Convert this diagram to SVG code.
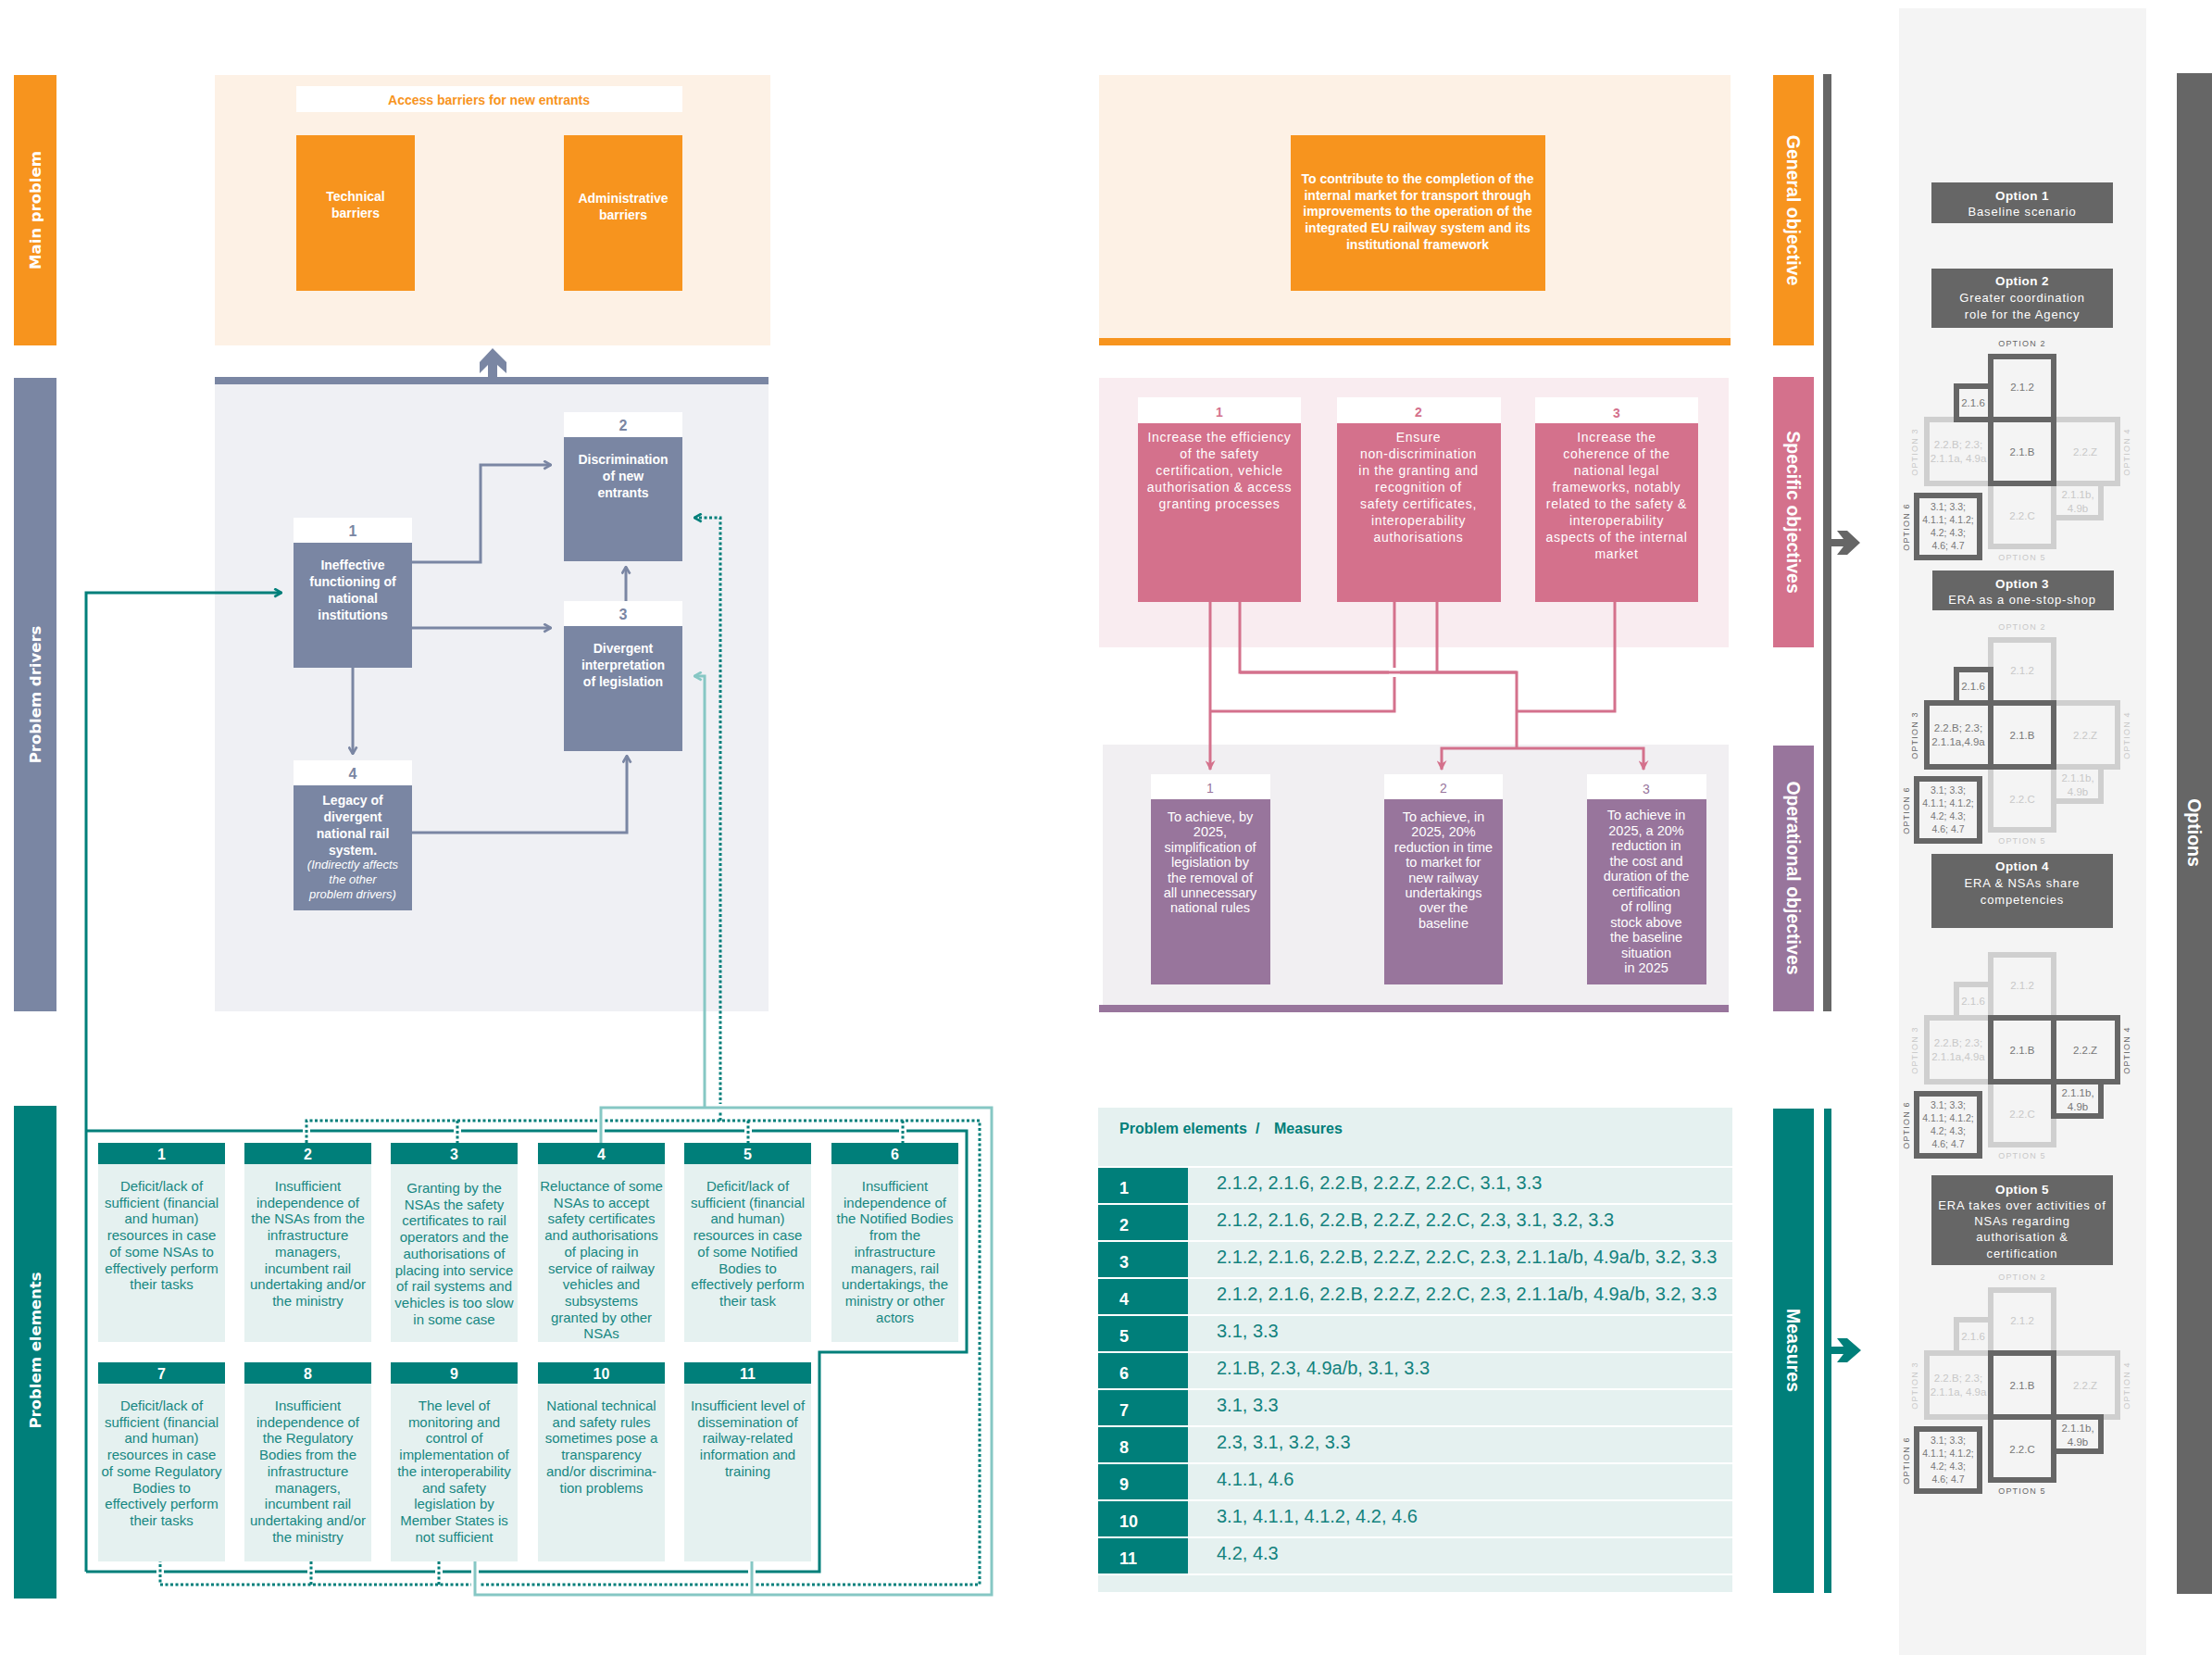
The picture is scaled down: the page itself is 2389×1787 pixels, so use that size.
<svg xmlns="http://www.w3.org/2000/svg" width="2389" height="1787" viewBox="0 0 2389 1787">
<style>
.f{font-family:"Liberation Sans",Arial,sans-serif}
.lbl{font-family:"DejaVu Sans",Verdana,sans-serif;font-weight:bold;font-size:16.5px;fill:#fff;text-anchor:middle}
.rlbl{font-family:"Liberation Sans",Arial,sans-serif;font-weight:bold;font-size:19.5px;fill:#fff;text-anchor:middle}
.wb{font-family:"Liberation Sans",Arial,sans-serif;font-weight:bold;font-size:14px;fill:#fff;text-anchor:middle}
.drv{font-family:"Liberation Sans",Arial,sans-serif;font-weight:bold;font-size:16px;fill:#7a86a3;text-anchor:middle}
.it{font-family:"Liberation Sans",Arial,sans-serif;font-style:italic;font-size:13px;fill:#fff;text-anchor:middle}
.el{font-family:"Liberation Sans",Arial,sans-serif;font-size:15px;fill:#178782;text-anchor:middle}
.eln{font-family:"Liberation Sans",Arial,sans-serif;font-weight:bold;font-size:16px;fill:#fff;text-anchor:middle}
.pk{font-family:"Liberation Sans",Arial,sans-serif;font-size:14px;letter-spacing:0.7px;fill:#fff;text-anchor:middle}
.pkn{font-family:"Liberation Sans",Arial,sans-serif;font-weight:bold;font-size:14px;fill:#d4718c;text-anchor:middle}
.op{font-family:"Liberation Sans",Arial,sans-serif;font-size:14.5px;fill:#fff;text-anchor:middle}
.opn{font-family:"Liberation Sans",Arial,sans-serif;font-size:14px;fill:#98759c;text-anchor:middle}
.ms{font-family:"Liberation Sans",Arial,sans-serif;font-size:20px;fill:#13827e}
.msn{font-family:"Liberation Sans",Arial,sans-serif;font-weight:bold;font-size:18px;fill:#fff}
.ot{font-family:"Liberation Sans",Arial,sans-serif;font-weight:bold;font-size:13.5px;letter-spacing:0.4px;fill:#fff;text-anchor:middle}
.os{font-family:"Liberation Sans",Arial,sans-serif;font-size:13px;letter-spacing:0.85px;fill:#fff;text-anchor:middle}
.dk{fill:none;stroke:#666;stroke-width:6}
.lt{fill:none;stroke:#cfcfcf;stroke-width:6}
.td{font-family:"Liberation Sans",Arial,sans-serif;font-size:11.5px;fill:#777;text-anchor:middle}
.tl{font-family:"Liberation Sans",Arial,sans-serif;font-size:11.5px;fill:#c8c8c8;text-anchor:middle}
.t6{font-family:"Liberation Sans",Arial,sans-serif;font-size:10.5px;fill:#777;text-anchor:middle}
.od{font-family:"Liberation Sans",Arial,sans-serif;font-size:9px;letter-spacing:1.2px;fill:#666;text-anchor:middle}
.ol{font-family:"Liberation Sans",Arial,sans-serif;font-size:9px;letter-spacing:1.2px;fill:#c8c8c8;text-anchor:middle}
.sl{fill:none;stroke:#7a86a3;stroke-width:3}
.pl{fill:none;stroke:#d4718c;stroke-width:3}
.tsol{fill:none;stroke:#007f7a;stroke-width:3}
.tdot{fill:none;stroke:#007f7a;stroke-width:3;stroke-dasharray:3 2.5}
.tpal{fill:none;stroke:#86c7c4;stroke-width:3}
</style>
<defs>
<marker id="mS" viewBox="0 0 10 10" refX="9" refY="5" markerWidth="11" markerHeight="11" markerUnits="userSpaceOnUse" orient="auto"><path d="M2,1 L9,5 L2,9" fill="none" stroke="#7a86a3" stroke-width="2.4"/></marker>
<marker id="mT" viewBox="0 0 10 10" refX="9" refY="5" markerWidth="11" markerHeight="11" markerUnits="userSpaceOnUse" orient="auto"><path d="M2,1 L9,5 L2,9" fill="none" stroke="#007f7a" stroke-width="2.4"/></marker>
<marker id="mP" viewBox="0 0 10 10" refX="9" refY="5" markerWidth="11" markerHeight="11" markerUnits="userSpaceOnUse" orient="auto"><path d="M2,1 L9,5 L2,9" fill="none" stroke="#86c7c4" stroke-width="2.4"/></marker>
<marker id="mK" viewBox="0 0 10 10" refX="9" refY="5" markerWidth="11" markerHeight="11" markerUnits="userSpaceOnUse" orient="auto"><path d="M0,0 L10,5 L0,10 L3,5 Z" fill="#d4718c"/></marker>
</defs>
<rect width="2389" height="1787" fill="#fff"/>

<!-- side label bars -->
<g id="label-main-problem"><rect x="15" y="81" width="46" height="292" fill="#f7941e"/><text class="lbl" transform="translate(38,227) rotate(-90)" y="6">Main problem</text></g>
<g id="label-problem-drivers"><rect x="15" y="408" width="46" height="684" fill="#7a86a3"/><text class="lbl" transform="translate(38,750) rotate(-90)" y="6">Problem drivers</text></g>
<g id="label-problem-elements"><rect x="15" y="1194" width="46" height="532" fill="#007f7a"/><text class="lbl" transform="translate(38,1458) rotate(-90)" y="6">Problem elements</text></g>

<!-- main problem -->
<g id="main-problem">
<rect x="232" y="81" width="600" height="292" fill="#fdf1e5"/>
<rect x="320" y="93" width="417" height="28" fill="#fff"/>
<text class="f" x="528" y="113" font-size="14" font-weight="bold" fill="#f7941e" text-anchor="middle">Access barriers for new entrants</text>
</g>
<g id="technical-barriers"><rect x="320" y="146" width="128" height="168" fill="#f7941e"/><text class="wb"><tspan x="384" y="217">Technical</tspan><tspan x="384" y="235">barriers</tspan></text></g>
<g id="administrative-barriers"><rect x="609" y="146" width="128" height="168" fill="#f7941e"/><text class="wb"><tspan x="673" y="219">Administrative</tspan><tspan x="673" y="237">barriers</tspan></text></g>

<!-- drivers panel -->
<g id="drivers-panel">
<rect x="232" y="415" width="598" height="677" fill="#eff0f4"/>
<rect x="232" y="407" width="598" height="8" fill="#7a86a3"/>
<polygon points="532,376 547,391 547,403 537,394 537,407 527,407 527,394 518,403 518,391" fill="#7a86a3"/>
</g>
<g id="driver-1"><rect x="317" y="559" width="128" height="27" fill="#fff"/><text class="drv" x="381" y="579">1</text><rect x="317" y="586" width="128" height="135" fill="#7a86a3"/>
<text class="wb"><tspan x="381" y="615">Ineffective</tspan><tspan x="381" y="633">functioning of</tspan><tspan x="381" y="651">national</tspan><tspan x="381" y="669">institutions</tspan></text></g>
<g id="driver-2"><rect x="609" y="445" width="128" height="27" fill="#fff"/><text class="drv" x="673" y="465">2</text><rect x="609" y="472" width="128" height="134" fill="#7a86a3"/>
<text class="wb"><tspan x="673" y="501">Discrimination</tspan><tspan x="673" y="519">of new</tspan><tspan x="673" y="537">entrants</tspan></text></g>
<g id="driver-3"><rect x="609" y="649" width="128" height="27" fill="#fff"/><text class="drv" x="673" y="669">3</text><rect x="609" y="676" width="128" height="135" fill="#7a86a3"/>
<text class="wb"><tspan x="673" y="705">Divergent</tspan><tspan x="673" y="723">interpretation</tspan><tspan x="673" y="741">of legislation</tspan></text></g>
<g id="driver-4"><rect x="317" y="821" width="128" height="27" fill="#fff"/><text class="drv" x="381" y="841">4</text><rect x="317" y="848" width="128" height="135" fill="#7a86a3"/>
<text class="wb"><tspan x="381" y="869">Legacy of</tspan><tspan x="381" y="887">divergent</tspan><tspan x="381" y="905">national rail</tspan><tspan x="381" y="923">system.</tspan></text>
<text class="it"><tspan x="381" y="938">(Indirectly affects</tspan><tspan x="381" y="954">the other</tspan><tspan x="381" y="970">problem drivers)</tspan></text></g>

<!-- problem elements -->
<g id="element-1"><rect x="106" y="1234" width="137" height="23" fill="#007f7a"/><text class="eln" x="174.5" y="1252">1</text><rect x="106" y="1257" width="137" height="192" fill="#e5f1f0"/>
<text class="el"><tspan x="174.5" y="1286">Deficit/lack of</tspan><tspan x="174.5" dy="17.7">sufficient (financial</tspan><tspan x="174.5" dy="17.7">and human)</tspan><tspan x="174.5" dy="17.7">resources in case</tspan><tspan x="174.5" dy="17.7">of some NSAs to</tspan><tspan x="174.5" dy="17.7">effectively perform</tspan><tspan x="174.5" dy="17.7">their tasks</tspan></text></g>
<g id="element-2"><rect x="264" y="1234" width="137" height="23" fill="#007f7a"/><text class="eln" x="332.5" y="1252">2</text><rect x="264" y="1257" width="137" height="192" fill="#e5f1f0"/>
<text class="el"><tspan x="332.5" y="1286">Insufficient</tspan><tspan x="332.5" dy="17.7">independence of</tspan><tspan x="332.5" dy="17.7">the NSAs from the</tspan><tspan x="332.5" dy="17.7">infrastructure</tspan><tspan x="332.5" dy="17.7">managers,</tspan><tspan x="332.5" dy="17.7">incumbent rail</tspan><tspan x="332.5" dy="17.7">undertaking and/or</tspan><tspan x="332.5" dy="17.7">the ministry</tspan></text></g>
<g id="element-3"><rect x="422" y="1234" width="137" height="23" fill="#007f7a"/><text class="eln" x="490.5" y="1252">3</text><rect x="422" y="1257" width="137" height="192" fill="#e5f1f0"/>
<text class="el"><tspan x="490.5" y="1288">Granting by the</tspan><tspan x="490.5" dy="17.7">NSAs the safety</tspan><tspan x="490.5" dy="17.7">certificates to rail</tspan><tspan x="490.5" dy="17.7">operators and the</tspan><tspan x="490.5" dy="17.7">authorisations of</tspan><tspan x="490.5" dy="17.7">placing into service</tspan><tspan x="490.5" dy="17.7">of rail systems and</tspan><tspan x="490.5" dy="17.7">vehicles is too slow</tspan><tspan x="490.5" dy="17.7">in some case</tspan></text></g>
<g id="element-4"><rect x="581" y="1234" width="137" height="23" fill="#007f7a"/><text class="eln" x="649.5" y="1252">4</text><rect x="581" y="1257" width="137" height="192" fill="#e5f1f0"/>
<text class="el"><tspan x="649.5" y="1286">Reluctance of some</tspan><tspan x="649.5" dy="17.7">NSAs to accept</tspan><tspan x="649.5" dy="17.7">safety certificates</tspan><tspan x="649.5" dy="17.7">and authorisations</tspan><tspan x="649.5" dy="17.7">of placing in</tspan><tspan x="649.5" dy="17.7">service of railway</tspan><tspan x="649.5" dy="17.7">vehicles and</tspan><tspan x="649.5" dy="17.7">subsystems</tspan><tspan x="649.5" dy="17.7">granted by other</tspan><tspan x="649.5" dy="17.7">NSAs</tspan></text></g>
<g id="element-5"><rect x="739" y="1234" width="137" height="23" fill="#007f7a"/><text class="eln" x="807.5" y="1252">5</text><rect x="739" y="1257" width="137" height="192" fill="#e5f1f0"/>
<text class="el"><tspan x="807.5" y="1286">Deficit/lack of</tspan><tspan x="807.5" dy="17.7">sufficient (financial</tspan><tspan x="807.5" dy="17.7">and human)</tspan><tspan x="807.5" dy="17.7">resources in case</tspan><tspan x="807.5" dy="17.7">of some Notified</tspan><tspan x="807.5" dy="17.7">Bodies to</tspan><tspan x="807.5" dy="17.7">effectively perform</tspan><tspan x="807.5" dy="17.7">their task</tspan></text></g>
<g id="element-6"><rect x="898" y="1234" width="137" height="23" fill="#007f7a"/><text class="eln" x="966.5" y="1252">6</text><rect x="898" y="1257" width="137" height="192" fill="#e5f1f0"/>
<text class="el"><tspan x="966.5" y="1286">Insufficient</tspan><tspan x="966.5" dy="17.7">independence of</tspan><tspan x="966.5" dy="17.7">the Notified Bodies</tspan><tspan x="966.5" dy="17.7">from the</tspan><tspan x="966.5" dy="17.7">infrastructure</tspan><tspan x="966.5" dy="17.7">managers, rail</tspan><tspan x="966.5" dy="17.7">undertakings, the</tspan><tspan x="966.5" dy="17.7">ministry or other</tspan><tspan x="966.5" dy="17.7">actors</tspan></text></g>
<g id="element-7"><rect x="106" y="1471" width="137" height="23" fill="#007f7a"/><text class="eln" x="174.5" y="1489">7</text><rect x="106" y="1494" width="137" height="192" fill="#e5f1f0"/>
<text class="el"><tspan x="174.5" y="1523">Deficit/lack of</tspan><tspan x="174.5" dy="17.7">sufficient (financial</tspan><tspan x="174.5" dy="17.7">and human)</tspan><tspan x="174.5" dy="17.7">resources in case</tspan><tspan x="174.5" dy="17.7">of some Regulatory</tspan><tspan x="174.5" dy="17.7">Bodies to</tspan><tspan x="174.5" dy="17.7">effectively perform</tspan><tspan x="174.5" dy="17.7">their tasks</tspan></text></g>
<g id="element-8"><rect x="264" y="1471" width="137" height="23" fill="#007f7a"/><text class="eln" x="332.5" y="1489">8</text><rect x="264" y="1494" width="137" height="192" fill="#e5f1f0"/>
<text class="el"><tspan x="332.5" y="1523">Insufficient</tspan><tspan x="332.5" dy="17.7">independence of</tspan><tspan x="332.5" dy="17.7">the Regulatory</tspan><tspan x="332.5" dy="17.7">Bodies from the</tspan><tspan x="332.5" dy="17.7">infrastructure</tspan><tspan x="332.5" dy="17.7">managers,</tspan><tspan x="332.5" dy="17.7">incumbent rail</tspan><tspan x="332.5" dy="17.7">undertaking and/or</tspan><tspan x="332.5" dy="17.7">the ministry</tspan></text></g>
<g id="element-9"><rect x="422" y="1471" width="137" height="23" fill="#007f7a"/><text class="eln" x="490.5" y="1489">9</text><rect x="422" y="1494" width="137" height="192" fill="#e5f1f0"/>
<text class="el"><tspan x="490.5" y="1523">The level of</tspan><tspan x="490.5" dy="17.7">monitoring and</tspan><tspan x="490.5" dy="17.7">control of</tspan><tspan x="490.5" dy="17.7">implementation of</tspan><tspan x="490.5" dy="17.7">the interoperability</tspan><tspan x="490.5" dy="17.7">and safety</tspan><tspan x="490.5" dy="17.7">legislation by</tspan><tspan x="490.5" dy="17.7">Member States is</tspan><tspan x="490.5" dy="17.7">not sufficient</tspan></text></g>
<g id="element-10"><rect x="581" y="1471" width="137" height="23" fill="#007f7a"/><text class="eln" x="649.5" y="1489">10</text><rect x="581" y="1494" width="137" height="192" fill="#e5f1f0"/>
<text class="el"><tspan x="649.5" y="1523">National technical</tspan><tspan x="649.5" dy="17.7">and safety rules</tspan><tspan x="649.5" dy="17.7">sometimes pose a</tspan><tspan x="649.5" dy="17.7">transparency</tspan><tspan x="649.5" dy="17.7">and/or discrimina-</tspan><tspan x="649.5" dy="17.7">tion problems</tspan></text></g>
<g id="element-11"><rect x="739" y="1471" width="137" height="23" fill="#007f7a"/><text class="eln" x="807.5" y="1489">11</text><rect x="739" y="1494" width="137" height="192" fill="#e5f1f0"/>
<text class="el"><tspan x="807.5" y="1523">Insufficient level of</tspan><tspan x="807.5" dy="17.7">dissemination of</tspan><tspan x="807.5" dy="17.7">railway-related</tspan><tspan x="807.5" dy="17.7">information and</tspan><tspan x="807.5" dy="17.7">training</tspan></text></g>

<!-- objectives -->
<g id="general-objective-panel"><rect x="1187" y="81" width="682" height="284" fill="#fdf1e5"/><rect x="1187" y="365" width="682" height="8" fill="#f7941e"/></g>
<g id="general-objective"><rect x="1394" y="146" width="275" height="168" fill="#f7941e"/>
<text class="wb"><tspan x="1531" y="198">To contribute to the completion of the</tspan><tspan x="1531" dy="17.7">internal market for transport through</tspan><tspan x="1531" dy="17.7">improvements to the operation of the</tspan><tspan x="1531" dy="17.7">integrated EU railway system and its</tspan><tspan x="1531" dy="17.7">institutional framework</tspan></text></g>
<g id="specific-panel"><rect x="1187" y="408" width="680" height="291" fill="#f9ecf0"/></g>
<g id="specific-1"><rect x="1229" y="429" width="176" height="28" fill="#fff"/><text class="pkn" x="1317" y="450">1</text><rect x="1229" y="457" width="176" height="193" fill="#d4718c"/>
<text class="pk"><tspan x="1317" y="477">Increase the efficiency</tspan><tspan x="1317" dy="18">of the safety</tspan><tspan x="1317" dy="18">certification, vehicle</tspan><tspan x="1317" dy="18">authorisation &amp; access</tspan><tspan x="1317" dy="18">granting processes</tspan></text></g>
<g id="specific-2"><rect x="1444" y="429" width="177" height="28" fill="#fff"/><text class="pkn" x="1532" y="450">2</text><rect x="1444" y="457" width="177" height="193" fill="#d4718c"/>
<text class="pk"><tspan x="1532" y="477">Ensure</tspan><tspan x="1532" dy="18">non-discrimination</tspan><tspan x="1532" dy="18">in the granting and</tspan><tspan x="1532" dy="18">recognition of</tspan><tspan x="1532" dy="18">safety certificates,</tspan><tspan x="1532" dy="18">interoperability</tspan><tspan x="1532" dy="18">authorisations</tspan></text></g>
<g id="specific-3"><rect x="1658" y="429" width="176" height="28" fill="#fff"/><text class="pkn" x="1746" y="451">3</text><rect x="1658" y="457" width="176" height="193" fill="#d4718c"/>
<text class="pk"><tspan x="1746" y="477">Increase the</tspan><tspan x="1746" dy="18">coherence of the</tspan><tspan x="1746" dy="18">national legal</tspan><tspan x="1746" dy="18">frameworks, notably</tspan><tspan x="1746" dy="18">related to the safety &amp;</tspan><tspan x="1746" dy="18">interoperability</tspan><tspan x="1746" dy="18">aspects of the internal</tspan><tspan x="1746" dy="18">market</tspan></text></g>
<g id="operational-panel"><rect x="1191" y="804" width="676" height="281" fill="#f1eff2"/><rect x="1187" y="1085" width="680" height="8" fill="#98759c"/></g>
<g id="operational-1"><rect x="1243" y="836" width="129" height="27" fill="#fff"/><text class="opn" x="1307" y="856">1</text><rect x="1243" y="863" width="129" height="200" fill="#98759c"/>
<text class="op"><tspan x="1307" y="887">To achieve, by</tspan><tspan x="1307" dy="16.4">2025,</tspan><tspan x="1307" dy="16.4">simplification of</tspan><tspan x="1307" dy="16.4">legislation by</tspan><tspan x="1307" dy="16.4">the removal of</tspan><tspan x="1307" dy="16.4">all unnecessary</tspan><tspan x="1307" dy="16.4">national rules</tspan></text></g>
<g id="operational-2"><rect x="1495" y="836" width="128" height="27" fill="#fff"/><text class="opn" x="1559" y="856">2</text><rect x="1495" y="863" width="128" height="200" fill="#98759c"/>
<text class="op"><tspan x="1559" y="887">To achieve, in</tspan><tspan x="1559" dy="16.4">2025, 20%</tspan><tspan x="1559" dy="16.4">reduction in time</tspan><tspan x="1559" dy="16.4">to market for</tspan><tspan x="1559" dy="16.4">new railway</tspan><tspan x="1559" dy="16.4">undertakings</tspan><tspan x="1559" dy="16.4">over the</tspan><tspan x="1559" dy="16.4">baseline</tspan></text></g>
<g id="operational-3"><rect x="1714" y="836" width="129" height="27" fill="#fff"/><text class="opn" x="1778" y="857">3</text><rect x="1714" y="863" width="129" height="200" fill="#98759c"/>
<text class="op"><tspan x="1778" y="885">To achieve in</tspan><tspan x="1778" dy="16.5">2025, a 20%</tspan><tspan x="1778" dy="16.5">reduction in</tspan><tspan x="1778" dy="16.5">the cost and</tspan><tspan x="1778" dy="16.5">duration of the</tspan><tspan x="1778" dy="16.5">certification</tspan><tspan x="1778" dy="16.5">of rolling</tspan><tspan x="1778" dy="16.5">stock above</tspan><tspan x="1778" dy="16.5">the baseline</tspan><tspan x="1778" dy="16.5">situation</tspan><tspan x="1778" dy="16.5">in 2025</tspan></text></g>

<!-- measures table -->
<g id="measures-table">
<rect x="1186" y="1196" width="685" height="63" fill="#e5f1f0"/>
<text class="f" y="1224" font-size="16" font-weight="bold" fill="#007f7a"><tspan x="1209">Problem elements</tspan><tspan x="1356">/</tspan><tspan x="1376">Measures</tspan></text>
<g fill="#e5f1f0">
<rect x="1186" y="1261" width="685" height="38"/><rect x="1186" y="1301" width="685" height="38"/><rect x="1186" y="1341" width="685" height="38"/><rect x="1186" y="1381" width="685" height="38"/><rect x="1186" y="1421" width="685" height="38"/><rect x="1186" y="1461" width="685" height="38"/><rect x="1186" y="1501" width="685" height="38"/><rect x="1186" y="1541" width="685" height="38"/><rect x="1186" y="1581" width="685" height="38"/><rect x="1186" y="1621" width="685" height="38"/><rect x="1186" y="1661" width="685" height="38"/><rect x="1186" y="1701" width="685" height="18"/>
</g>
<g fill="#007f7a">
<rect x="1186" y="1261" width="97" height="38"/><rect x="1186" y="1301" width="97" height="38"/><rect x="1186" y="1341" width="97" height="38"/><rect x="1186" y="1381" width="97" height="38"/><rect x="1186" y="1421" width="97" height="38"/><rect x="1186" y="1461" width="97" height="38"/><rect x="1186" y="1501" width="97" height="38"/><rect x="1186" y="1541" width="97" height="38"/><rect x="1186" y="1581" width="97" height="38"/><rect x="1186" y="1621" width="97" height="38"/><rect x="1186" y="1661" width="97" height="38"/>
</g>
<text class="msn"><tspan x="1209" y="1289">1</tspan><tspan x="1209" y="1329">2</tspan><tspan x="1209" y="1369">3</tspan><tspan x="1209" y="1409">4</tspan><tspan x="1209" y="1449">5</tspan><tspan x="1209" y="1489">6</tspan><tspan x="1209" y="1529">7</tspan><tspan x="1209" y="1569">8</tspan><tspan x="1209" y="1609">9</tspan><tspan x="1209" y="1649">10</tspan><tspan x="1209" y="1689">11</tspan></text>
<text class="ms"><tspan x="1314" y="1284">2.1.2, 2.1.6, 2.2.B, 2.2.Z, 2.2.C, 3.1, 3.3</tspan><tspan x="1314" y="1324">2.1.2, 2.1.6, 2.2.B, 2.2.Z, 2.2.C, 2.3, 3.1, 3.2, 3.3</tspan><tspan x="1314" y="1364">2.1.2, 2.1.6, 2.2.B, 2.2.Z, 2.2.C, 2.3, 2.1.1a/b, 4.9a/b, 3.2, 3.3</tspan><tspan x="1314" y="1404">2.1.2, 2.1.6, 2.2.B, 2.2.Z, 2.2.C, 2.3, 2.1.1a/b, 4.9a/b, 3.2, 3.3</tspan><tspan x="1314" y="1444">3.1, 3.3</tspan><tspan x="1314" y="1484">2.1.B, 2.3, 4.9a/b, 3.1, 3.3</tspan><tspan x="1314" y="1524">3.1, 3.3</tspan><tspan x="1314" y="1564">2.3, 3.1, 3.2, 3.3</tspan><tspan x="1314" y="1604">4.1.1, 4.6</tspan><tspan x="1314" y="1644">3.1, 4.1.1, 4.1.2, 4.2, 4.6</tspan><tspan x="1314" y="1684">4.2, 4.3</tspan></text>
</g>

<!-- right labels -->
<g id="label-general-objective"><rect x="1915" y="81" width="44" height="292" fill="#f7941e"/><text class="rlbl" transform="translate(1937,227) rotate(90)" y="7">General objective</text></g>
<g id="label-specific-objectives"><rect x="1915" y="407" width="44" height="292" fill="#d4718c"/><text class="rlbl" transform="translate(1937,553) rotate(90)" y="7">Specific objectives</text></g>
<g id="label-operational-objectives"><rect x="1915" y="805" width="44" height="287" fill="#98759c"/><text class="rlbl" transform="translate(1937,948) rotate(90)" y="7">Operational objectives</text></g>
<g id="label-measures"><rect x="1915" y="1197" width="44" height="523" fill="#007f7a"/><text class="rlbl" transform="translate(1937,1458) rotate(90)" y="7">Measures</text></g>
<g id="objectives-bracket"><rect x="1969" y="80" width="9" height="1012" fill="#666"/>
<polygon points="1978,582 1991,582 1984,573 1995,573 2009,586 1995,599 1984,599 1991,590 1978,590" fill="#666"/></g>
<g id="measures-bracket"><rect x="1970" y="1197" width="8" height="523" fill="#007f7a"/>
<polygon points="1978,1454 1991,1454 1984,1445 1995,1445 2010,1458 1995,1471 1984,1471 1991,1462 1978,1462" fill="#007f7a"/></g>

<!-- options -->
<rect x="2051" y="9" width="267" height="1778" fill="#f4f4f4"/>
<g id="label-options"><rect x="2351" y="79" width="38" height="1642" fill="#666"/><text class="rlbl" transform="translate(2370,899) rotate(90)" y="7">Options</text></g>
<g id="option-1"><rect x="2086" y="197" width="196" height="44" fill="#666"/><text class="ot" x="2184" y="216">Option 1</text><text class="os" x="2184" y="233">Baseline scenario</text></g>
<g id="option-2"><rect x="2086" y="290" width="196" height="64" fill="#666"/><text class="ot" x="2184" y="308">Option 2</text><text class="os"><tspan x="2184" y="326">Greater coordination</tspan><tspan x="2184" y="344">role for the Agency</tspan></text></g>
<g id="option-3"><rect x="2087" y="616" width="196" height="43" fill="#666"/><text class="ot" x="2184" y="635">Option 3</text><text class="os" x="2184" y="652">ERA as a one-stop-shop</text></g>
<g id="option-4"><rect x="2086" y="922" width="196" height="80" fill="#666"/><text class="ot" x="2184" y="940">Option 4</text><text class="os"><tspan x="2184" y="958">ERA &amp; NSAs share</tspan><tspan x="2184" y="976">competencies</tspan></text></g>
<g id="option-5"><rect x="2086" y="1269" width="196" height="97" fill="#666"/><text class="ot" x="2184" y="1289">Option 5</text><text class="os"><tspan x="2184" y="1306">ERA takes over activities of</tspan><tspan x="2184" y="1323">NSAs regarding</tspan><tspan x="2184" y="1340">authorisation &amp;</tspan><tspan x="2184" y="1358">certification</tspan></text></g>

<!-- diagram option 2 -->
<g id="diagram-option-2">
<rect class="lt" x="2081" y="453" width="69" height="69"/><rect class="lt" x="2218" y="453" width="69" height="69"/><rect class="lt" x="2150" y="522" width="68" height="68"/><rect class="lt" x="2218" y="522" width="51" height="37"/>
<rect class="dk" x="2150" y="385" width="68" height="68"/><rect class="dk" x="2113" y="417" width="37" height="36"/><rect class="dk" x="2150" y="453" width="68" height="69"/><rect class="dk" x="2070" y="535" width="68" height="67"/>
<text class="td" x="2184" y="422">2.1.2</text><text class="td" x="2131" y="439">2.1.6</text><text class="td" x="2184" y="492">2.1.B</text>
<text class="tl"><tspan x="2115" y="484">2.2.B; 2.3;</tspan><tspan x="2115" y="499">2.1.1a, 4.9a</tspan></text>
<text class="tl" x="2252" y="492">2.2.Z</text><text class="tl" x="2184" y="561">2.2.C</text>
<text class="tl"><tspan x="2244" y="538">2.1.1b,</tspan><tspan x="2244" y="553">4.9b</tspan></text>
<text class="t6"><tspan x="2104" y="551">3.1; 3.3;</tspan><tspan x="2104" y="565">4.1.1; 4.1.2;</tspan><tspan x="2104" y="579">4.2; 4.3;</tspan><tspan x="2104" y="593">4.6; 4.7</tspan></text>
<text class="od" x="2184" y="374">OPTION 2</text><text class="ol" x="2184" y="605">OPTION 5</text>
<text class="ol" transform="translate(2068,488) rotate(-90)" y="3">OPTION 3</text><text class="ol" transform="translate(2297,488) rotate(-90)" y="3">OPTION 4</text><text class="od" transform="translate(2059,569) rotate(-90)" y="3">OPTION 6</text>
</g>
<!-- diagram option 3 -->
<g id="diagram-option-3" transform="translate(0,306)">
<rect class="lt" x="2150" y="385" width="68" height="68"/><rect class="lt" x="2218" y="453" width="69" height="69"/><rect class="lt" x="2150" y="522" width="68" height="68"/><rect class="lt" x="2218" y="522" width="51" height="37"/>
<rect class="dk" x="2113" y="417" width="37" height="36"/><rect class="dk" x="2081" y="453" width="69" height="69"/><rect class="dk" x="2150" y="453" width="68" height="69"/><rect class="dk" x="2070" y="535" width="68" height="67"/>
<text class="tl" x="2184" y="422">2.1.2</text><text class="td" x="2131" y="439">2.1.6</text><text class="td" x="2184" y="492">2.1.B</text>
<text class="td"><tspan x="2115" y="484">2.2.B; 2.3;</tspan><tspan x="2115" y="499">2.1.1a,4.9a</tspan></text>
<text class="tl" x="2252" y="492">2.2.Z</text><text class="tl" x="2184" y="561">2.2.C</text>
<text class="tl"><tspan x="2244" y="538">2.1.1b,</tspan><tspan x="2244" y="553">4.9b</tspan></text>
<text class="t6"><tspan x="2104" y="551">3.1; 3.3;</tspan><tspan x="2104" y="565">4.1.1; 4.1.2;</tspan><tspan x="2104" y="579">4.2; 4.3;</tspan><tspan x="2104" y="593">4.6; 4.7</tspan></text>
<text class="ol" x="2184" y="374">OPTION 2</text><text class="ol" x="2184" y="605">OPTION 5</text>
<text class="od" transform="translate(2068,488) rotate(-90)" y="3">OPTION 3</text><text class="ol" transform="translate(2297,488) rotate(-90)" y="3">OPTION 4</text><text class="od" transform="translate(2059,569) rotate(-90)" y="3">OPTION 6</text>
</g>
<!-- diagram option 4 -->
<g id="diagram-option-4" transform="translate(0,646)">
<rect class="lt" x="2150" y="385" width="68" height="68"/><rect class="lt" x="2113" y="417" width="37" height="36"/><rect class="lt" x="2081" y="453" width="69" height="69"/><rect class="lt" x="2150" y="522" width="68" height="68"/>
<rect class="dk" x="2150" y="453" width="68" height="69"/><rect class="dk" x="2218" y="453" width="69" height="69"/><rect class="dk" x="2218" y="522" width="51" height="37"/><rect class="dk" x="2070" y="535" width="68" height="67"/>
<text class="tl" x="2184" y="422">2.1.2</text><text class="tl" x="2131" y="439">2.1.6</text><text class="td" x="2184" y="492">2.1.B</text>
<text class="tl"><tspan x="2115" y="484">2.2.B; 2.3;</tspan><tspan x="2115" y="499">2.1.1a,4.9a</tspan></text>
<text class="td" x="2252" y="492">2.2.Z</text><text class="tl" x="2184" y="561">2.2.C</text>
<text class="td"><tspan x="2244" y="538">2.1.1b,</tspan><tspan x="2244" y="553">4.9b</tspan></text>
<text class="t6"><tspan x="2104" y="551">3.1; 3.3;</tspan><tspan x="2104" y="565">4.1.1; 4.1.2;</tspan><tspan x="2104" y="579">4.2; 4.3;</tspan><tspan x="2104" y="593">4.6; 4.7</tspan></text>
<text class="ol" x="2184" y="605">OPTION 5</text>
<text class="ol" transform="translate(2068,488) rotate(-90)" y="3">OPTION 3</text><text class="od" transform="translate(2297,488) rotate(-90)" y="3">OPTION 4</text><text class="od" transform="translate(2059,569) rotate(-90)" y="3">OPTION 6</text>
</g>
<!-- diagram option 5 -->
<g id="diagram-option-5" transform="translate(0,1008)">
<rect class="lt" x="2150" y="385" width="68" height="68"/><rect class="lt" x="2113" y="417" width="37" height="36"/><rect class="lt" x="2081" y="453" width="69" height="69"/><rect class="lt" x="2218" y="453" width="69" height="69"/>
<rect class="dk" x="2150" y="453" width="68" height="69"/><rect class="dk" x="2150" y="522" width="68" height="68"/><rect class="dk" x="2218" y="522" width="51" height="37"/><rect class="dk" x="2070" y="535" width="68" height="67"/>
<text class="tl" x="2184" y="422">2.1.2</text><text class="tl" x="2131" y="439">2.1.6</text><text class="td" x="2184" y="492">2.1.B</text>
<text class="tl"><tspan x="2115" y="484">2.2.B; 2.3;</tspan><tspan x="2115" y="499">2.1.1a, 4.9a</tspan></text>
<text class="tl" x="2252" y="492">2.2.Z</text><text class="td" x="2184" y="561">2.2.C</text>
<text class="td"><tspan x="2244" y="538">2.1.1b,</tspan><tspan x="2244" y="553">4.9b</tspan></text>
<text class="t6"><tspan x="2104" y="551">3.1; 3.3;</tspan><tspan x="2104" y="565">4.1.1; 4.1.2;</tspan><tspan x="2104" y="579">4.2; 4.3;</tspan><tspan x="2104" y="593">4.6; 4.7</tspan></text>
<text class="ol" x="2184" y="374">OPTION 2</text><text class="od" x="2184" y="605">OPTION 5</text>
<text class="ol" transform="translate(2068,488) rotate(-90)" y="3">OPTION 3</text><text class="ol" transform="translate(2297,488) rotate(-90)" y="3">OPTION 4</text><text class="od" transform="translate(2059,569) rotate(-90)" y="3">OPTION 6</text>
</g>

<!-- connectors -->
<g id="connectors">
<path class="sl" d="M445,607 H519 V502 H595" marker-end="url(#mS)"/>
<path class="sl" d="M445,678 H595" marker-end="url(#mS)"/>
<path class="sl" d="M676,649 V612" marker-end="url(#mS)"/>
<path class="sl" d="M381,721 V814" marker-end="url(#mS)"/>
<path class="sl" d="M445,899 H677 V816" marker-end="url(#mS)"/>

<path class="pl" d="M1307,650 V831" marker-end="url(#mK)"/>
<path class="pl" d="M1339,650 V726 H1638 V808"/>
<path class="pl" d="M1552,650 V726"/>
<path class="pl" d="M1744,650 V768 H1638"/>
<path class="pl" d="M1506,650 V768 H1307"/>
<rect x="1500" y="721" width="12" height="10" fill="#fff"/>
<path class="pl" d="M1339,726 H1638"/>
<path class="pl" d="M1638,808 H1557 V831" marker-end="url(#mK)"/>
<path class="pl" d="M1638,808 H1775 V831" marker-end="url(#mK)"/>

<path class="tsol" d="M93,1697 V640 H304" marker-end="url(#mT)"/>
<path class="tsol" d="M93,1221 H1044 V1460 H885 V1697 H93"/>
<g fill="#fff">
<rect x="327" y="1217" width="8" height="8"/><rect x="490" y="1217" width="8" height="8"/><rect x="645" y="1217" width="8" height="8"/><rect x="804" y="1217" width="8" height="8"/><rect x="971" y="1217" width="8" height="8"/>
<rect x="169" y="1693" width="8" height="8"/><rect x="332" y="1693" width="8" height="8"/><rect x="470" y="1693" width="8" height="8"/><rect x="509" y="1693" width="8" height="8"/><rect x="808" y="1693" width="8" height="8"/>
</g>
<path class="tdot" d="M331,1234 V1210 H1058 V1711 H173 V1686"/>
<path class="tdot" d="M494,1210 V1234 M808,1210 V1234 M975,1210 V1234 M336,1711 V1686 M474,1711 V1686"/>
<path class="tdot" d="M778,1210 V559 H750" marker-end="url(#mT)"/>
<g fill="#fff">
<rect x="645" y="1206" width="8" height="8"/><rect x="509" y="1707" width="8" height="8"/><rect x="808" y="1707" width="8" height="8"/><rect x="774" y="1192" width="8" height="8"/>
</g>
<path class="tpal" d="M649,1234 V1196 H1071 V1722 H513 V1686"/>
<path class="tpal" d="M812,1686 V1722"/>
<path class="tpal" d="M761,1196 V730 H750" marker-end="url(#mP)"/>
</g>
</svg>
